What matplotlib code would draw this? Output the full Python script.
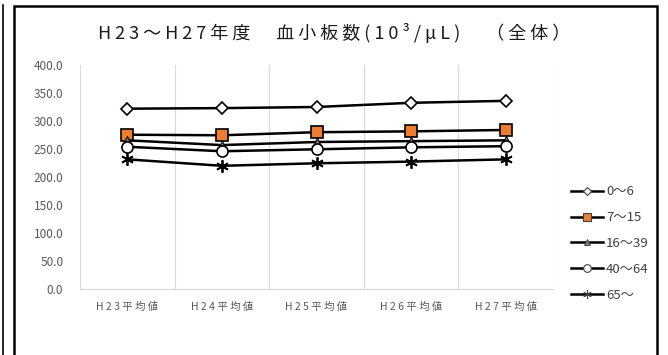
import numpy as np
import matplotlib
matplotlib.use('Agg')
import matplotlib.pyplot as plt
from matplotlib.lines import Line2D
from matplotlib.patches import Rectangle

plt.rcParams['font.family'] = ['Noto Sans CJK JP', 'DejaVu Sans']

# data -----------------------------
years = ['H23平均値', 'H24平均値', 'H25平均値', 'H26平均値', 'H27平均値']
age_0_6 = [322.0, 323.0, 325.0, 332.5, 336.0]
age_7_15 = [275.5, 274.5, 280.0, 281.5, 284.0]
age_16_39 = [265.5, 257.0, 262.5, 264.0, 265.5]
age_40_64 = [254.0, 246.0, 249.5, 253.0, 255.0]
age_65 = [231.5, 220.0, 224.5, 227.5, 231.5]
labels = ['0～6', '7～15', '16～39', '40～64', '65～']
yticks = [0, 50, 100, 150, 200, 250, 300, 350, 400]
title = 'H23～H27年度　血小板数(10³/μL)　（全体）'


def spaced(s):
    # excel-like letter spacing
    return ' '.join(s)


# figure ---------------------------
W, H = 668, 355
fig = plt.figure(figsize=(W / 100, H / 100), dpi=100)
ax = fig.add_axes([80 / W, 1 - 289 / H, (553 - 80) / W, (289 - 65) / H])

x = np.arange(len(years))
styles = [
    dict(marker='D', ms=6.5, mfc='white', mec='black', mew=1.2),
    dict(marker='s', ms=8, mfc='#ED7D31', mec='black', mew=1.2),
    dict(marker='^', ms=6, mfc='#808080', mec='black', mew=0.8),
    dict(marker='o', ms=8, mfc='white', mec='black', mew=1.2),
    dict(marker=(6, 2, 0), ms=9, mfc='black', mec='black', mew=1.3),
]
series = [age_0_6, age_7_15, age_16_39, age_40_64, age_65]
for vals, st in zip(series, styles):
    ax.plot(x, vals, color='black', lw=1.8, zorder=3, **st)

ax.set_xlim(-0.5, len(years) - 0.5)
ax.set_ylim(0, 400)
ax.set_yticks(yticks)
ax.set_yticklabels(['%.1f' % v for v in yticks], fontsize=8.5, color='#595959')
ax.set_xticks(x)
ax.set_xticklabels([spaced(y) for y in years], fontsize=7.5, color='#595959')
ax.tick_params(length=0)
ax.tick_params(axis='y', pad=12)
ax.tick_params(axis='x', pad=9)

# vertical gridlines between categories
for b in np.arange(-0.5, len(years), 1.0):
    ax.axvline(b, color='#D9D9D9', lw=0.8, zorder=1)
for s in ['top', 'right', 'left']:
    ax.spines[s].set_visible(False)
ax.spines['bottom'].set_color('#D9D9D9')

fig.text(334 / W, 1 - 33 / H, spaced(title), fontsize=13, color='#1a1a1a',
         ha='center', va='center')

# legend
leg_styles = [
    dict(marker='D', ms=4.5, mfc='white', mec='#404040', mew=0.8),
    dict(marker='s', ms=5.5, mfc='#ED7D31', mec='#404040', mew=0.8),
    dict(marker='^', ms=5, mfc='#808080', mec='#404040', mew=0.6),
    dict(marker='o', ms=5.5, mfc='white', mec='#404040', mew=0.8),
    dict(marker=(6, 2, 0), ms=6, mfc='#404040', mec='#404040', mew=0.8),
]
handles = [Line2D([], [], color='black', lw=1.8, **st) for st in leg_styles]
fig.legend(handles, labels, loc='center left', bbox_to_anchor=(571 / W, 1 - 243.5 / H),
           frameon=False, fontsize=9.5, handlelength=2.4, handletextpad=0.25,
           labelspacing=0.97, borderpad=0, borderaxespad=0, labelcolor='#404040')

# frames
fig.patches.append(Rectangle((14 / W, -0.05), (657 - 14) / W, 1.05 - 6 / H,
                             transform=fig.transFigure, fill=False,
                             lw=1.8, ec='black'))
fig.add_artist(Line2D([2.5 / W, 2.5 / W], [0, 1 - 5 / H], transform=fig.transFigure,
                      color='black', lw=1.2))

fig.savefig('out.png', dpi=100)
